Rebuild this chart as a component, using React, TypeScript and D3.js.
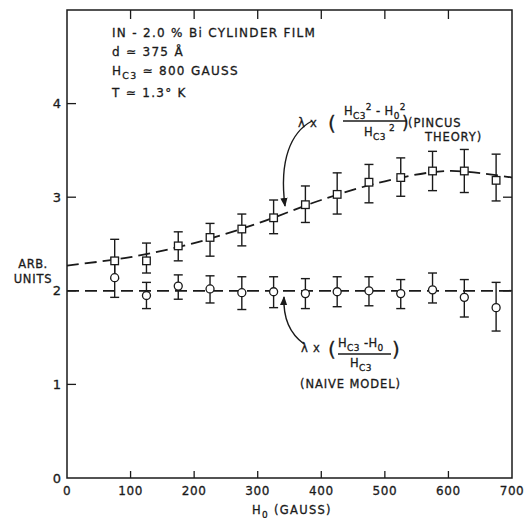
import { useEffect, useRef } from 'react';
import * as d3 from 'd3';

// H0 values (gauss) for both series
const fieldH0 = [75, 125, 175, 225, 275, 325, 375, 425, 475, 525, 575, 625, 675];

// Pincus theory points (squares) with error bars
const pincusVal = [2.32, 2.32, 2.48, 2.57, 2.66, 2.78, 2.92, 3.03, 3.16, 3.21, 3.28, 3.28, 3.18];
const pincusHi = [2.55, 2.51, 2.63, 2.72, 2.82, 2.97, 3.12, 3.26, 3.35, 3.42, 3.49, 3.51, 3.46];
const pincusLo = [2.13, 2.19, 2.32, 2.37, 2.48, 2.61, 2.73, 2.82, 2.94, 3.01, 3.07, 3.05, 2.96];

// Naive model points (circles) with error bars
const naiveVal = [2.14, 1.95, 2.05, 2.02, 1.98, 1.99, 1.97, 1.99, 2.0, 1.97, 2.01, 1.93, 1.82];
const naiveHi = [2.35, 2.09, 2.17, 2.16, 2.15, 2.15, 2.13, 2.15, 2.15, 2.12, 2.19, 2.12, 2.09];
const naiveLo = [1.93, 1.81, 1.91, 1.87, 1.8, 1.82, 1.81, 1.83, 1.84, 1.81, 1.87, 1.72, 1.57];

// dashed guide curves
const pincusCurveX = [0, 100, 200, 300, 400, 500, 600, 700];
const pincusCurveY = [2.27, 2.36, 2.51, 2.72, 2.97, 3.17, 3.28, 3.21];
const naiveCurveX = [0, 700];
const naiveCurveY = [2.0, 2.0];

const xTicks = [0, 100, 200, 300, 400, 500, 600, 700];
const yTicks = [0, 1, 2, 3, 4];

const INK = '#1a1a1a';
const FONT = '"DejaVu Sans", sans-serif';

type Part = [string, 'sub' | 'sup' | null];

const App = () => {
    const svgRef = useRef<SVGSVGElement>(null);

    useEffect(() => {
        if (!svgRef.current) return;
        const svg = d3.select(svgRef.current);
        svg.selectAll('*').remove();

        const x = d3.scaleLinear().domain([0, 700]).range([67, 512]);
        const y = d3.scaleLinear().domain([0, 5]).range([478, 10]);

        // arrow marker
        svg.append('defs')
            .append('marker')
            .attr('id', 'arrowhead')
            .attr('viewBox', '0 0 10 10')
            .attr('refX', 9)
            .attr('refY', 5)
            .attr('markerWidth', 9)
            .attr('markerHeight', 9)
            .attr('markerUnits', 'userSpaceOnUse')
            .attr('orient', 'auto')
            .append('path')
            .attr('d', 'M0,1 L10,5 L0,9 Z')
            .attr('fill', INK);

        // frame
        svg.append('rect')
            .attr('x', x(0))
            .attr('y', y(5))
            .attr('width', x(700) - x(0))
            .attr('height', y(0) - y(5))
            .attr('fill', 'none')
            .attr('stroke', INK)
            .attr('stroke-width', 1.5);

        const inner = xTicks.filter(t => t > 0 && t < 700);
        // bottom ticks (inward)
        svg.selectAll('.tb').data(inner).enter().append('line')
            .attr('x1', d => x(d)).attr('x2', d => x(d))
            .attr('y1', y(0)).attr('y2', y(0) - 7)
            .attr('stroke', INK).attr('stroke-width', 1.3);
        // top ticks
        svg.selectAll('.tt').data(inner).enter().append('line')
            .attr('x1', d => x(d)).attr('x2', d => x(d))
            .attr('y1', y(5)).attr('y2', y(5) + 9)
            .attr('stroke', INK).attr('stroke-width', 1.3);
        // left ticks
        svg.selectAll('.tl').data([1, 2, 3, 4]).enter().append('line')
            .attr('x1', x(0)).attr('x2', x(0) + 9)
            .attr('y1', d => y(d)).attr('y2', d => y(d))
            .attr('stroke', INK).attr('stroke-width', 1.3);
        // right ticks
        svg.selectAll('.tr').data([2, 3]).enter().append('line')
            .attr('x1', x(700)).attr('x2', x(700) - 9)
            .attr('y1', d => y(d)).attr('y2', d => y(d))
            .attr('stroke', INK).attr('stroke-width', 1.3);

        // tick labels
        svg.selectAll('.xl').data(xTicks).enter().append('text')
            .attr('x', d => x(d))
            .attr('y', 495)
            .attr('text-anchor', 'middle')
            .attr('font-family', FONT)
            .attr('font-size', 12)
            .attr('letter-spacing', 0.6)
            .attr('fill', INK)
            .attr('stroke', INK)
            .attr('stroke-width', 0.3)
            .text(d => String(d));

        svg.selectAll('.yl').data(yTicks).enter().append('text')
            .attr('x', 61)
            .attr('y', d => y(d) + 4.5)
            .attr('text-anchor', 'end')
            .attr('font-family', FONT)
            .attr('font-size', 13)
            .attr('fill', INK)
            .attr('stroke', INK)
            .attr('stroke-width', 0.3)
            .text(d => String(d));

        // rich text helper
        const rich = (px: number, py: number, parts: Part[], size = 11.5, anchor = 'start', spacing = 0.8) => {
            const t = svg.append('text')
                .attr('x', px).attr('y', py)
                .attr('font-family', FONT)
                .attr('font-size', size)
                .attr('text-anchor', anchor)
                .attr('letter-spacing', spacing)
                .attr('fill', INK)
                .attr('stroke', INK)
                .attr('stroke-width', 0.3);
            let shift = 0;
            parts.forEach(([s, kind]) => {
                const target = kind === 'sub' ? 3.5 : kind === 'sup' ? -5 : 0;
                const sp = t.append('tspan')
                    .attr('dy', target - shift)
                    .text(s);
                if (kind) sp.attr('font-size', size * 0.78);
                shift = target;
            });
            return t;
        };

        // axis titles
        rich(33, 268, [['ARB.', null]], 11.5, 'middle', 0.5);
        rich(33, 283, [['UNITS', null]], 11.5, 'middle', 0.8);
        rich(292, 514, [['H', null], ['0', 'sub'], [' (GAUSS)', null]], 11.5, 'middle', 1.3);

        // info block
        rich(112, 37, [['IN - 2.0 % Bi CYLINDER FILM', null]], 12, 'start', 1.3);
        rich(112, 56, [['d \u2243 375 \u00c5', null]], 12, 'start', 1.3);
        rich(112, 75, [['H', null], ['C3', 'sub'], [' \u2243 800 GAUSS', null]], 12, 'start', 1.3);
        rich(112, 97, [['T \u2243 1.3\u00b0 K', null]], 12, 'start', 1.3);

        // dashed curves
        const line = d3.line<[number, number]>()
            .x(d => x(d[0]))
            .y(d => y(d[1]))
            .curve(d3.curveCatmullRom);

        const pincusCurve = pincusCurveX.map((v, i) => [v, pincusCurveY[i]] as [number, number]);
        const naiveCurve = naiveCurveX.map((v, i) => [v, naiveCurveY[i]] as [number, number]);

        [pincusCurve, naiveCurve].forEach(c => {
            svg.append('path')
                .attr('d', line(c))
                .attr('fill', 'none')
                .attr('stroke', INK)
                .attr('stroke-width', 1.8)
                .attr('stroke-dasharray', '12,6');
        });

        // error bars
        const errBars = (lo: number[], hi: number[]) => {
            const g = svg.append('g').attr('stroke', INK).attr('stroke-width', 1.4);
            fieldH0.forEach((h, i) => {
                g.append('line')
                    .attr('x1', x(h)).attr('x2', x(h))
                    .attr('y1', y(lo[i])).attr('y2', y(hi[i]));
                [lo[i], hi[i]].forEach(v => {
                    g.append('line')
                        .attr('x1', x(h) - 4.5).attr('x2', x(h) + 4.5)
                        .attr('y1', y(v)).attr('y2', y(v));
                });
            });
        };
        errBars(pincusLo, pincusHi);
        errBars(naiveLo, naiveHi);

        // squares
        svg.selectAll('.sq').data(fieldH0).enter().append('rect')
            .attr('x', d => x(d) - 3.8)
            .attr('y', (d, i) => y(pincusVal[i]) - 3.8)
            .attr('width', 7.6)
            .attr('height', 7.6)
            .attr('fill', '#fff')
            .attr('stroke', INK)
            .attr('stroke-width', 1.3);

        // circles
        svg.selectAll('.ci').data(fieldH0).enter().append('circle')
            .attr('cx', d => x(d))
            .attr('cy', (d, i) => y(naiveVal[i]))
            .attr('r', 4)
            .attr('fill', '#fff')
            .attr('stroke', INK)
            .attr('stroke-width', 1.3);

        // Pincus annotation
        rich(298, 127, [['\u03bb x', null]], 11.5);
        rich(328, 130, [['(', null]], 20, 'start', 0);
        rich(344, 115, [['H', null], ['C3', 'sub'], ['2', 'sup'], [' - H', null], ['0', 'sub'], ['2', 'sup']], 11.5, 'start', 0.4);
        svg.append('line')
            .attr('x1', 343).attr('x2', 407).attr('y1', 121).attr('y2', 121)
            .attr('stroke', INK).attr('stroke-width', 1.3);
        rich(364, 136, [['H', null], ['C3', 'sub'], [' 2', 'sup']], 11.5, 'start', 0.4);
        rich(402, 129, [[')', null]], 17, 'start', 0);
        rich(408, 127, [['(PINCUS', null]], 11.5, 'start', 0.9);
        rich(425, 141, [['THEORY)', null]], 11.5, 'start', 0.9);

        svg.append('path')
            .attr('d', 'M312,121 C291,132 279,160 285,206')
            .attr('fill', 'none')
            .attr('stroke', INK)
            .attr('stroke-width', 1.4)
            .attr('marker-end', 'url(#arrowhead)');

        // Naive annotation
        rich(301, 352, [['\u03bb x', null]], 11.5);
        rich(328, 356, [['(', null]], 20, 'start', 0);
        rich(338, 347, [['H', null], ['C3', 'sub'], [' -H', null], ['0', 'sub']], 11.5, 'start', 0.4);
        svg.append('line')
            .attr('x1', 338).attr('x2', 391).attr('y1', 354).attr('y2', 354)
            .attr('stroke', INK).attr('stroke-width', 1.3);
        rich(350, 367, [['H', null], ['C3', 'sub']], 11.5, 'start', 0.4);
        rich(392, 356, [[')', null]], 20, 'start', 0);
        rich(300, 388, [['(NAIVE MODEL)', null]], 11.5, 'start', 0.9);

        svg.append('path')
            .attr('d', 'M304,344 C289,333 283,318 284,297')
            .attr('fill', 'none')
            .attr('stroke', INK)
            .attr('stroke-width', 1.4)
            .attr('marker-end', 'url(#arrowhead)');
    }, []);

    return (
        <svg
            ref={svgRef}
            width={529}
            height={518}
            style={{ position: 'absolute', left: 0, top: 0, background: '#fff' }}
        />
    );
};

export default App;
